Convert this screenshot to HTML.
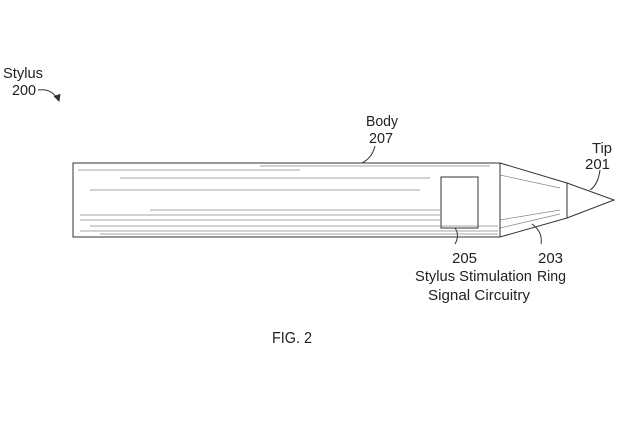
<!DOCTYPE html>
<html><head><style>
body{margin:0;background:#fff;}
svg text{font-family:"Liberation Sans Narrow","Liberation Sans",sans-serif;font-size:15px;fill:#222;}
</style></head><body>
<svg width="623" height="419" viewBox="0 0 623 419" xmlns="http://www.w3.org/2000/svg">
<g stroke="#333" fill="none" stroke-width="1">
<rect x="73" y="163" width="427" height="74" fill="#fff"/>
<rect x="441" y="177" width="37" height="51" fill="#fff"/>
<polygon points="500,163 567,183 567,218 500,237" fill="#fff"/>
<polygon points="567,183 614,200 567,218"/>
<line x1="567" y1="183" x2="567" y2="218"/>
<path d="M375,146 Q372,158 362,163"/>
<path d="M600,170 Q598,185 590,190"/>
<path d="M455,244 Q460,235 455,228"/>
<path d="M541,244 Q543,232 532,224"/>
<path d="M38,90 Q52,88 58,100"/>
<path d="M54,96 L59,101 L60,94" fill="#333"/>
</g>
<g stroke="#555" stroke-width="0.7" opacity="0.7">
<line x1="78" y1="170" x2="300" y2="170"/><line x1="120" y1="178" x2="430" y2="178"/>
<line x1="90" y1="190" x2="420" y2="190"/><line x1="150" y1="210" x2="440" y2="210"/>
<line x1="80" y1="220" x2="440" y2="220"/><line x1="90" y1="226" x2="498" y2="226"/>
<line x1="80" y1="231" x2="498" y2="231"/><line x1="100" y1="234" x2="498" y2="234"/>
<line x1="80" y1="215" x2="440" y2="215"/><line x1="260" y1="166" x2="490" y2="166"/>
<line x1="500" y1="220" x2="560" y2="210"/><line x1="500" y1="228" x2="560" y2="214"/>
<line x1="500" y1="175" x2="560" y2="188"/>
</g>
<text x="3" y="78" textLength="40" lengthAdjust="spacingAndGlyphs">Stylus</text>
<text x="12" y="95" textLength="24" lengthAdjust="spacingAndGlyphs">200</text>
<text x="366" y="126" textLength="32" lengthAdjust="spacingAndGlyphs">Body</text>
<text x="369" y="143" textLength="24" lengthAdjust="spacingAndGlyphs">207</text>
<text x="592" y="153" textLength="20" lengthAdjust="spacingAndGlyphs">Tip</text>
<text x="585" y="169" textLength="25" lengthAdjust="spacingAndGlyphs">201</text>
<text x="452" y="263" textLength="25" lengthAdjust="spacingAndGlyphs">205</text>
<text x="415" y="281" textLength="117" lengthAdjust="spacingAndGlyphs">Stylus Stimulation</text>
<text x="428" y="300" textLength="102" lengthAdjust="spacingAndGlyphs">Signal Circuitry</text>
<text x="538" y="263" textLength="25" lengthAdjust="spacingAndGlyphs">203</text>
<text x="537" y="281" textLength="29" lengthAdjust="spacingAndGlyphs">Ring</text>
<text x="272" y="343" style="font-size:16px" textLength="40" lengthAdjust="spacingAndGlyphs">FIG. 2</text>
</svg>
</body></html>
